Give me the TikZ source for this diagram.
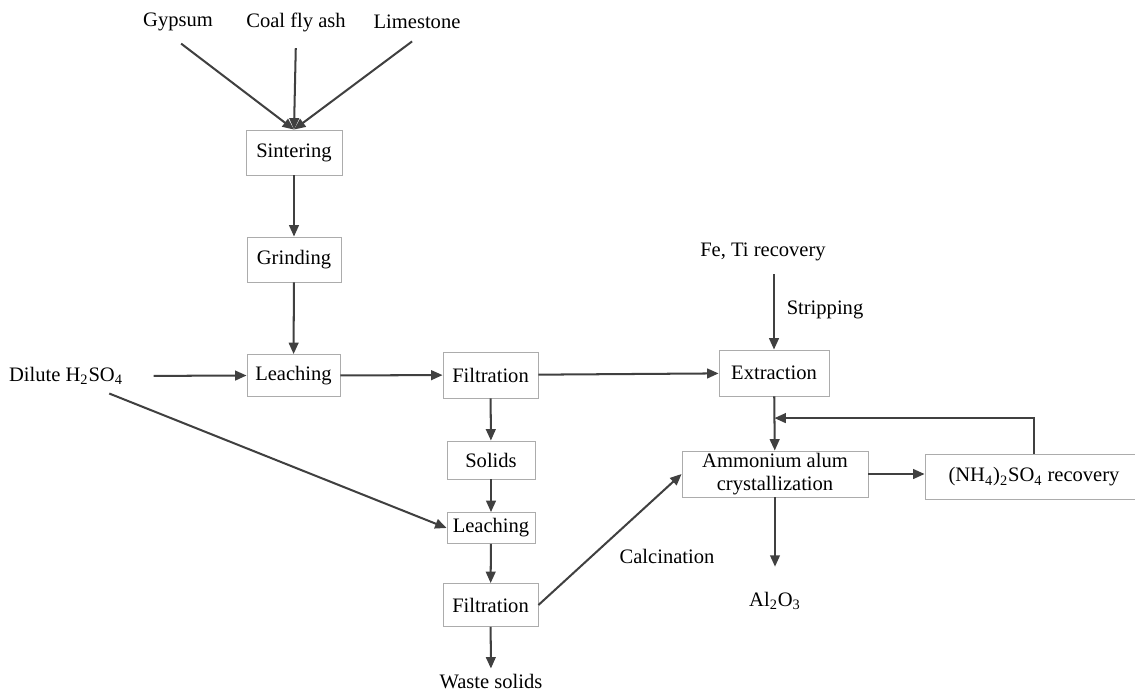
\documentclass[tikz,border=0pt]{standalone}
\usepackage{fontspec}
\setmainfont{Liberation Serif}
\usetikzlibrary{arrows.meta,calc}

\begin{document}
\begin{tikzpicture}[
    x=0.02cm, y=-0.02cm,
    every node/.style={font=\fontsize{11.7}{13}\selectfont},
    unit/.style={rectangle, draw=gray!65, line width=0.5pt, inner sep=0pt, align=center},
    flow/.style={-{Triangle[length=6.5pt,width=5.5pt]}, line width=1.15pt, draw=black!75}
]
    \useasboundingbox (0,0) rectangle (1135,693);

    % Raw materials
    \node (gyp) at (178,22) {Gypsum};
    \node (ash) at (296,22) {Coal fly ash};
    \node (lime) at (417,22) {Limestone};

    % Left column
    \node[unit, minimum width=1.92cm, minimum height=0.9cm] (sint) at (294,152.5) {Sintering};
    \node[unit, minimum width=1.88cm, minimum height=0.9cm] (grind) at (294,259.5) {Grinding};
    \node[unit, minimum width=1.86cm, minimum height=0.84cm] (leach1) at (293.5,375.5) {Leaching};
    \node (dil) at (66,376) {Dilute H\textsubscript{2}SO\textsubscript{4}};

    % Middle column
    \node[unit, minimum width=1.9cm, minimum height=0.92cm] (filt1) at (490.5,375) {Filtration};
    \node[unit, minimum width=1.76cm, minimum height=0.76cm] (sol) at (491,460) {Solids};
    \node[unit, minimum width=1.76cm, minimum height=0.62cm] (leach2) at (491,528) {Leaching};
    \node[unit, minimum width=1.9cm, minimum height=0.86cm] (filt2) at (490.5,605) {Filtration};
    \node (waste) at (491,682) {Waste solids};

    % Right side
    \node (fe) at (763,252) {Fe, Ti recovery};
    \node (strip) at (825,310) {Stripping};
    \node[unit, minimum width=2.2cm, minimum height=0.92cm] (extr) at (774,373) {Extraction};
    \node[unit, minimum width=3.72cm, minimum height=0.92cm] (amm) at (775,474) {Ammonium alum\\crystallization};
    \node[unit, minimum width=4.36cm, minimum height=0.9cm] (nh4) at (1034,477) {(NH\textsubscript{4})\textsubscript{2}SO\textsubscript{4} recovery};
    \node (al) at (775,601) {Al\textsubscript{2}O\textsubscript{3}};
    \node (calc) at (667,556) {Calcination};

    % Arrows
    \draw[flow, shorten <=6pt] ([xshift=-3pt]gyp.south) -- (sint.north);
    \draw[flow, shorten <=6pt] (ash.south) -- (sint.north);
    \draw[flow, shorten <=6pt] ([xshift=2pt]lime.south) -- (sint.north);
    \draw[flow] (sint) -- (grind);
    \draw[flow] (grind) -- (leach1);
    \draw[flow, shorten <=14pt] (dil.east) -- (leach1.west);
    \draw[flow, shorten <=4pt] ([xshift=-15pt]dil.south east) -- (leach2.west);
    \draw[flow] (leach1) -- (filt1);
    \draw[flow] (filt1) -- (extr);
    \draw[flow] (filt1) -- (sol);
    \draw[flow] (sol) -- (leach2);
    \draw[flow] (leach2) -- (filt2);
    \draw[flow] (filt2) -- (waste);
    \draw[flow] (filt2.east) -- (amm.west);
    \draw[flow, shorten <=4pt] (fe.south -| extr.north) -- (extr.north);
    \draw[flow] (extr) -- (amm);
    \draw[flow] (amm.east) -- (amm.east -| nh4.west);
    \draw[flow] (nh4.north) |- ($(extr.south)!0.4!(amm.north)$);
    \draw[flow, shorten >=11pt] (amm.south) -- (al.north);
\end{tikzpicture}
\end{document}
